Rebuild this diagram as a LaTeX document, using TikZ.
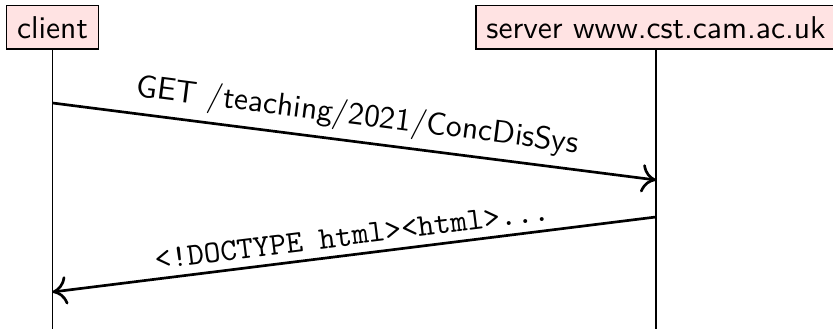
\documentclass[tikz,border=0pt]{standalone}
\usetikzlibrary{arrows.meta}
\begin{document}
\begin{tikzpicture}[x=0.317pt,y=0.317pt,
  actor/.style={draw=black,line width=0.4pt,fill=red!11,font=\sffamily,
    minimum height=13.6pt,inner sep=3.33pt,anchor=center},
  lifeline/.style={line width=0.4pt},
  msg/.style={line width=0.85pt,-{To[length=4.6pt,width=9pt]}},
  lbl/.style={sloped,above,inner sep=2.5pt}]
\useasboundingbox (0,0) rectangle (833,-329);
\node[actor] (client) at (52.5,-27.5) {client};
\node[actor] (server) at (656,-27.5) {server www.cst.cam.ac.uk};
\coordinate (cb) at (52.5,-329);
\coordinate (sb) at (656,-329);
\draw[lifeline] (client.south) -- (cb);
\draw[lifeline] (server.south) -- (sb);
\coordinate (c1) at (52.5,-103);
\coordinate (s1) at (656,-180);
\coordinate (s2) at (656,-217);
\coordinate (c2) at (52.5,-292);
\draw[msg] (c1) -- node[lbl,font=\sffamily]{GET /teaching/2021/ConcDisSys} (s1);
\draw[msg] (s2) -- node[lbl,font=\ttfamily]{<!DOCTYPE html><html>...} (c2);
\end{tikzpicture}
\end{document}
